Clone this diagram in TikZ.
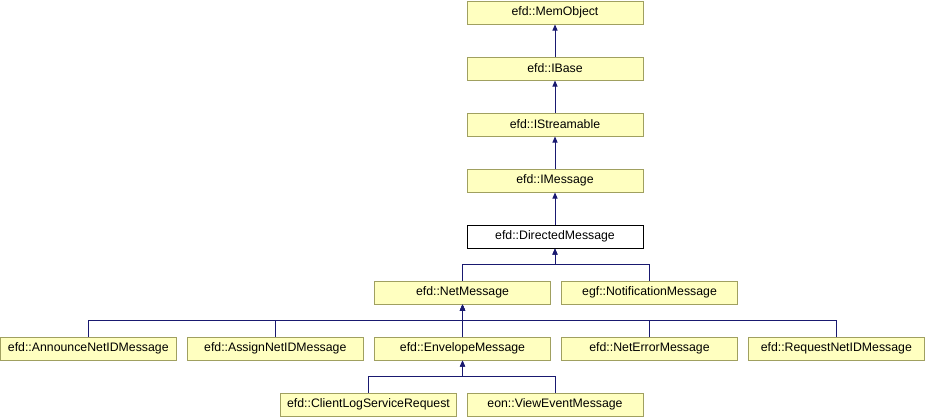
\documentclass[tikz,border=0pt]{standalone}
\usepackage{fontspec}
\setmainfont{Liberation Sans}
\usetikzlibrary{arrows.meta}
\definecolor{boxfill}{HTML}{FFFFC0}
\definecolor{boxborder}{HTML}{A0A060}
\definecolor{edgecol}{HTML}{191970}
\tikzset{
  cls/.style={draw=boxborder, fill=boxfill, line width=1pt, minimum width=176pt, minimum height=23pt, inner sep=0pt, anchor=north, font=\fontsize{12.3}{14}\selectfont},
  cur/.style={cls, draw=black, fill=white},
  inh/.style={draw=edgecol, line width=1pt, -{Triangle[length=6pt,width=5pt]}},
}
\begin{document}
\begin{tikzpicture}[x=1pt,y=-1pt]
\useasboundingbox (0,0) rectangle (925,416);
\node[cls] (mo) at (555,0.5) {efd::MemObject};
\node[cls] (ib) at (555,56.5) {efd::IBase};
\node[cls] (is) at (555,112.5) {efd::IStreamable};
\node[cls] (im) at (555,168.5) {efd::IMessage};
\node[cur] (dm) at (555,224.5) {efd::DirectedMessage};
\node[cls] (nm) at (462.5,280.5) {efd::NetMessage};
\node[cls] (nt) at (649.5,280.5) {egf::NotificationMessage};
\node[cls] (an) at (88.3,336.5) {efd::AnnounceNetIDMessage};
\node[cls] (as) at (275.3,336.5) {efd::AssignNetIDMessage};
\node[cls] (en) at (462.5,336.5) {efd::EnvelopeMessage};
\node[cls] (ne) at (649.5,336.5) {efd::NetErrorMessage};
\node[cls] (rq) at (836.3,336.5) {efd::RequestNetIDMessage};
\node[cls] (cl) at (368.5,392.5) {efd::ClientLogServiceRequest};
\node[cls] (ve) at (555,392.5) {eon::ViewEventMessage};
\coordinate (h1) at (0,264.3);
\coordinate (h2) at (0,320.5);
\coordinate (h3) at (0,376.3);
\draw[inh] (ib.north) -- (mo.south);
\draw[inh] (is.north) -- (ib.south);
\draw[inh] (im.north) -- (is.south);
\draw[inh] (dm.north) -- (im.south);
\draw[inh] (nm.north) |- (dm.south |- h1) -- (dm.south);
\draw[inh] (nt.north) |- (dm.south |- h1) -- (dm.south);
\draw[inh] (an.north) |- (nm.south |- h2) -- (nm.south);
\draw[inh] (as.north) |- (nm.south |- h2) -- (nm.south);
\draw[inh] (en.north) -- (nm.south);
\draw[inh] (ne.north) |- (nm.south |- h2) -- (nm.south);
\draw[inh] (rq.north) |- (nm.south |- h2) -- (nm.south);
\draw[inh] (cl.north) |- (en.south |- h3) -- (en.south);
\draw[inh] (ve.north) |- (en.south |- h3) -- (en.south);
\end{tikzpicture}
\end{document}
